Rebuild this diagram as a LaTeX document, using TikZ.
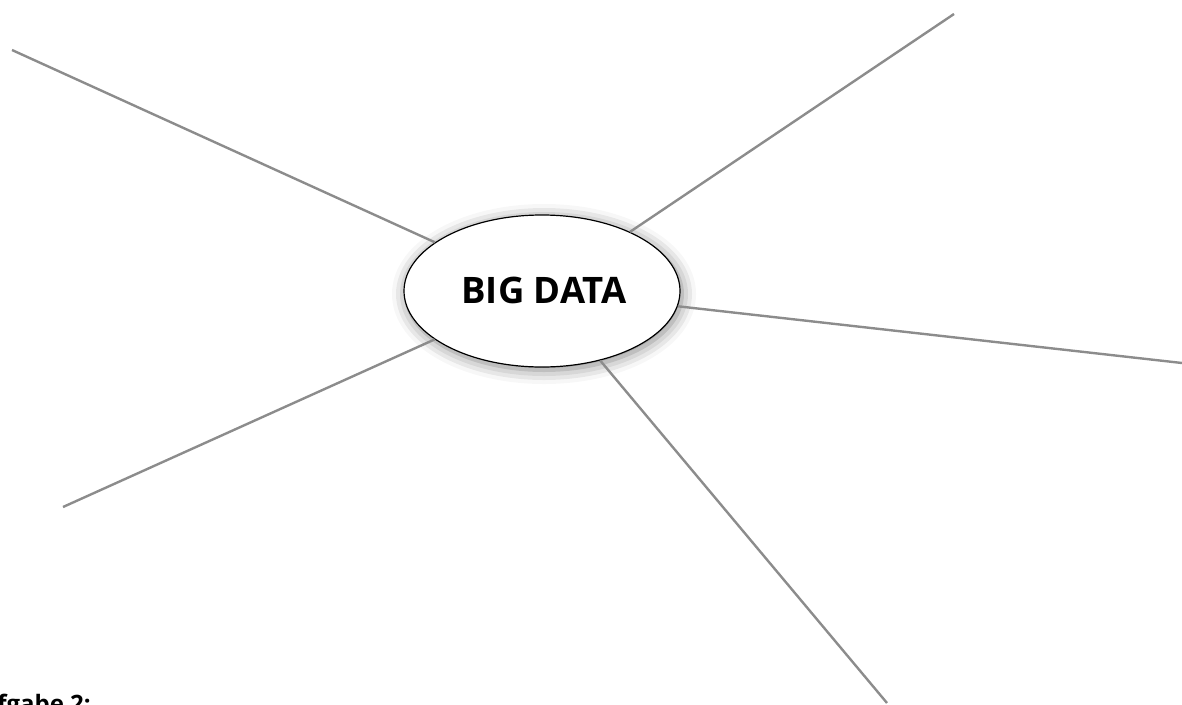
\documentclass[tikz,border=0pt]{standalone}
\usepackage{fontspec}
\setmainfont{Open Sans}
\usetikzlibrary{shapes.geometric,shadows.blur}
\definecolor{linegray}{RGB}{140,140,140}
\tikzset{
  spoke/.style={draw=linegray, line width=2.4pt},
  hub/.style={ellipse, draw=black, line width=1.2pt, fill=white, minimum width=276pt, minimum height=152pt, inner sep=0pt,
    blur shadow={shadow xshift=2pt, shadow yshift=-3pt, shadow blur radius=14pt, shadow opacity=50}},
  title/.style={font=\bfseries\fontsize{36.5}{42}\selectfont},
  task/.style={font=\bfseries\fontsize{24}{28}\selectfont, inner sep=0pt}
}
\begin{document}
\begin{tikzpicture}[x=1pt,y=-1pt]
\useasboundingbox (0,0) rectangle (1182,704);
\clip (0,0) rectangle (1182,704);
\coordinate (p1) at (12,50);
\coordinate (p2) at (954,14);
\coordinate (p3) at (1182,363);
\coordinate (p4) at (887,703);
\coordinate (p5) at (63,507);
\node[hub] (hub) at (542,291) {};
\draw[spoke] (p1) -- (hub);
\draw[spoke] (p2) -- (hub);
\draw[spoke] (p3) -- (hub);
\draw[spoke] (p4) -- (hub);
\draw[spoke] (p5) -- (hub);
\node[title] (label) at (544,290) {BIG DATA};
\node[task, anchor=base east] (task) at (91,712) {Aufgabe 2:};
\end{tikzpicture}
\end{document}
